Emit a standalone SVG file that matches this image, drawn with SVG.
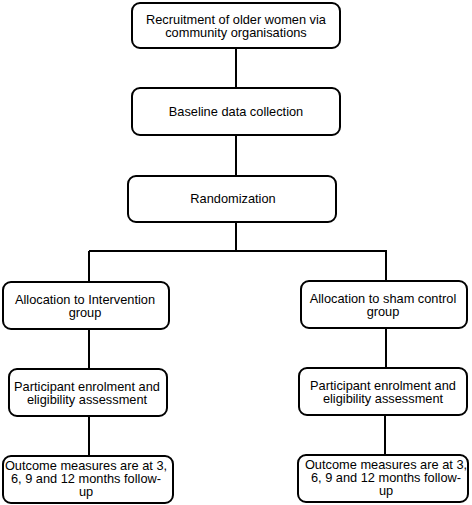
<svg xmlns="http://www.w3.org/2000/svg" width="472" height="505" viewBox="0 0 472 505">
<style>
.box{fill:#fff;stroke:#000;stroke-width:2}
.ln{fill:none;stroke:#000;stroke-width:2}
text{font-family:"Liberation Sans",Arial,sans-serif;font-size:12.8px;fill:#000;text-anchor:middle}
</style>
<rect width="472" height="505" fill="#fff"/>
<g id="connectors">
<path class="ln" d="M236 48V88M236 135V176M236 222V251M89 251H387M89 251V282M386 251V281M89 329V369M386 328V368M89 416V456M385 415V455"/>
</g>
<g id="n1"><rect class="box" x="132" y="3" width="208" height="45" rx="8"/><text x="236" y="24">Recruitment of older women via</text><text x="236" y="37">community organisations</text></g>
<g id="n2"><rect class="box" x="132" y="88" width="208" height="47" rx="8"/><text x="236" y="116">Baseline data collection</text></g>
<g id="n3"><rect class="box" x="128" y="176" width="208" height="46" rx="8"/><text x="233" y="203">Randomization</text></g>
<g id="n4"><rect class="box" x="3" y="282" width="166" height="47" rx="8"/><text x="85" y="304">Allocation to Intervention</text><text x="85" y="317">group</text></g>
<g id="n5"><rect class="box" x="301" y="281" width="166" height="47" rx="8"/><text x="383" y="303">Allocation to sham control</text><text x="383" y="316">group</text></g>
<g id="n6"><rect class="box" x="9" y="369" width="158" height="47" rx="8"/><text x="87" y="391">Participant enrolment and</text><text x="87" y="404">eligibility assessment</text></g>
<g id="n7"><rect class="box" x="299" y="368" width="168" height="47" rx="8"/><text x="383" y="390">Participant enrolment and</text><text x="383" y="403">eligibility assessment</text></g>
<g id="n8"><rect class="box" x="3" y="456" width="170" height="47" rx="8"/><text x="86" y="470">Outcome measures are at 3,</text><text x="86" y="483">6, 9 and 12 months follow-</text><text x="86" y="496">up</text></g>
<g id="n9"><rect class="box" x="298" y="455" width="170" height="47" rx="8"/><text x="386" y="469">Outcome measures are at 3,</text><text x="386" y="482">6, 9 and 12 months follow-</text><text x="386" y="495">up</text></g>
</svg>
